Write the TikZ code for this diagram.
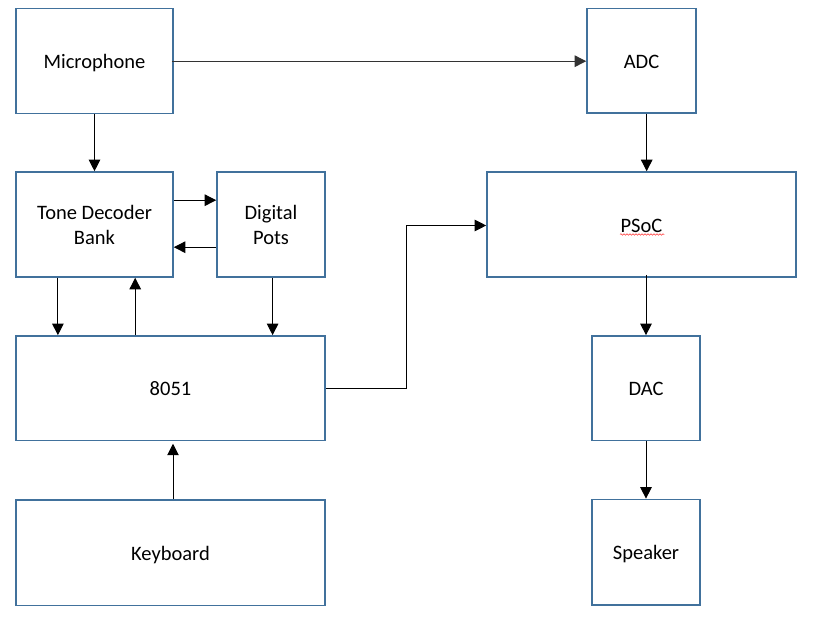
\documentclass[tikz,border=0pt]{standalone}
\usepackage{fontspec}
\setmainfont{Carlito}
\usetikzlibrary{arrows.meta,decorations.pathmorphing}
\definecolor{boxblue}{HTML}{41719C}
\begin{document}
\begin{tikzpicture}[x=1pt,y=-1pt,
  box/.style={draw=boxblue, line width=1.6pt, fill=white, inner sep=0pt,
    align=center, font=\fontsize{20.5}{25}\selectfont},
  oneline/.style={box, text height=18pt, text depth=2.8pt},
  arr/.style={draw=black, line width=1pt, -{Triangle[length=11.5pt,width=11.5pt]}}]
\useasboundingbox[fill=white] (0,0) rectangle (815,644);
% boxes
\node[oneline, minimum width=157pt, minimum height=105pt] (mic) at (94.5,61.2) {Microphone};
\node[oneline, minimum width=109pt, minimum height=104.5pt] (adc) at (641.5,60.7) {ADC};
\node[box, minimum width=157pt, minimum height=105pt] (tdb) at (94.5,224.5) {Tone Decoder\\Bank};
\node[box, minimum width=108pt, minimum height=105pt] (dp) at (271,224.5) {Digital\\Pots};
\node[oneline, minimum width=309pt, minimum height=105pt] (psoc) at (641.5,224.5) {PSoC};
\node[oneline, minimum width=309pt, minimum height=104.5pt] (cpu) at (170.5,388.2) {8051};
\node[oneline, minimum width=108pt, minimum height=104.5pt] (dac) at (646,388.2) {DAC};
\node[oneline, minimum width=309pt, minimum height=105.5pt] (kb) at (170.5,552.7) {Keyboard};
\node[oneline, minimum width=108pt, minimum height=105.5pt] (spk) at (646,552.2) {Speaker};
% spell-check underline under PSoC
\draw[red!80!white, line width=0.5pt, decoration={snake, amplitude=0.8pt, segment length=3pt}, decorate]
  ([xshift=-21.5pt, yshift=-10pt]psoc.center) -- ([xshift=22.8pt, yshift=-10pt]psoc.center);
% connectors
\draw[arr, draw=black!80] ([xshift=-2pt]mic.east) -- (mic.east -| adc.west);
\draw[arr] (mic.south) -- (tdb.north);
\draw[arr] ([yshift=-29pt]tdb.north east) -- ([yshift=-29pt]tdb.north east -| dp.west);
\draw[arr] ([yshift=-76pt]dp.north west) -- ([yshift=-76pt]dp.north west -| tdb.east);
\draw[arr] ([xshift=42.7pt]tdb.south west) -- ([xshift=42.7pt]tdb.south west |- cpu.north);
\draw[arr] ([xshift=120pt]cpu.north west) -- ([xshift=120pt]cpu.north west |- tdb.south);
\draw[arr] ([xshift=1.6pt]dp.south) -- ([xshift=1.6pt]dp.south |- cpu.north);
\draw[arr] ([xshift=2.5pt]kb.north) -- ([xshift=2.5pt,yshift=-2.5pt]kb.north |- cpu.south);
\draw[arr] (cpu.east) -- ++(81,0) |- ([yshift=-1pt]psoc.west);
\draw[arr] ([xshift=5.2pt]adc.south) -- ([xshift=5.2pt]adc.south |- psoc.north);
\draw[arr] ([yshift=3pt]psoc.south -| dac.north) -- (dac.north);
\draw[arr] (dac.south) -- (spk.north);
\end{tikzpicture}
\end{document}
